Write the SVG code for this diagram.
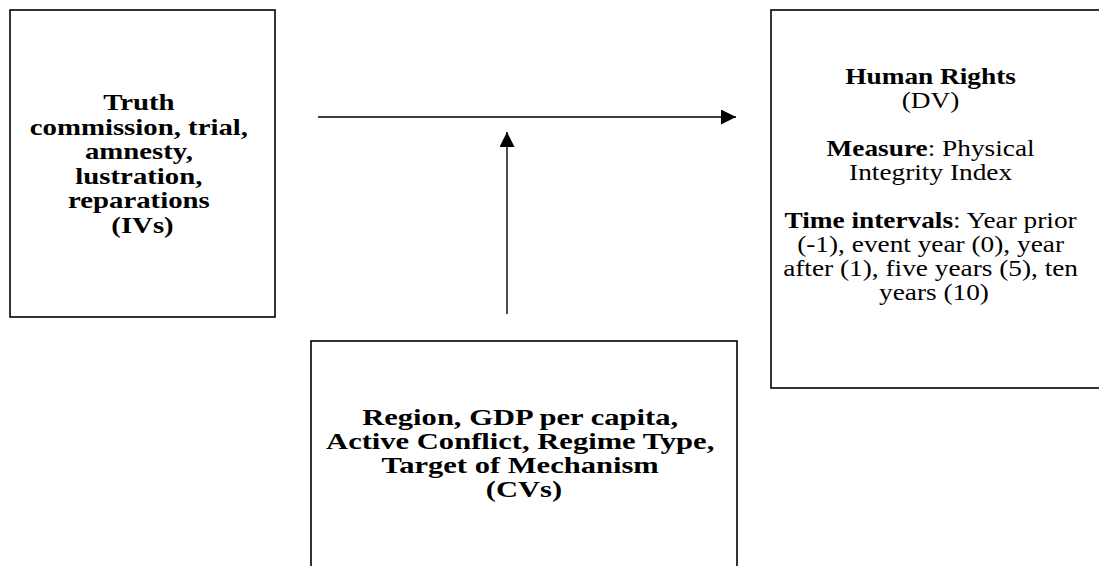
<svg xmlns="http://www.w3.org/2000/svg" width="1099" height="566" viewBox="0 0 1099 566">
  <style>
    .box { fill: #ffffff; stroke: #000000; stroke-width: 1.6; }
    .t { font-family: "Liberation Serif", "Times New Roman", serif; font-size: 23.5px; fill: #000000; text-anchor: middle; }
    .t.sm { font-size: 22.3px; }
    .b { font-weight: bold; }
    .wire { stroke: #000000; stroke-width: 1.4; fill: none; }
  </style>
  <defs>
    <marker id="arrow" viewBox="0 0 15 15" refX="15" refY="7.5" markerWidth="15" markerHeight="15" markerUnits="userSpaceOnUse" orient="auto">
      <path d="M0,0 L15,7.5 L0,15 Z" fill="#000000"/>
    </marker>
  </defs>
  <rect width="1099" height="566" fill="#ffffff"/>

  <!-- independent variables -->
  <g id="node-ivs">
    <rect class="box" x="10" y="10" width="265" height="307"/>
    <g transform="translate(142.5,0) scale(1.226,1)">
      <text class="t b">
        <tspan x="0" y="110.5">Truth</tspan>
        <tspan x="0" y="135">commission, trial,</tspan>
        <tspan x="0" y="159.5">amnesty,</tspan>
        <tspan x="0" y="184">lustration,</tspan>
        <tspan x="0" y="208.5">reparations</tspan>
        <tspan x="0" y="233">(IVs)</tspan>
      </text>
    </g>
  </g>

  <!-- dependent variable -->
  <g id="node-dv">
    <rect class="box" x="771" y="10" width="340" height="378"/>
    <g transform="translate(934,0) scale(1.225,1)">
      <text class="t sm">
        <tspan x="0" y="84.5" class="b">Human Rights</tspan>
        <tspan x="0" y="108.5">(DV)</tspan>
        <tspan x="0" y="156.5"><tspan class="b">Measure</tspan>: Physical</tspan>
        <tspan x="0" y="180.5">Integrity Index</tspan>
        <tspan x="0" y="228.5"><tspan class="b">Time intervals</tspan>: Year prior</tspan>
        <tspan x="0" y="252.5">(-1), event year (0), year</tspan>
        <tspan x="0" y="276.5">after (1), five years (5), ten</tspan>
        <tspan x="0" y="300.5">years (10)</tspan>
      </text>
    </g>
  </g>

  <!-- control variables -->
  <g id="node-cvs">
    <rect class="box" x="311" y="341" width="426" height="240"/>
    <g transform="translate(524,0) scale(1.30,1)">
      <text class="t b">
        <tspan x="0" y="425.5">Region, GDP per capita,</tspan>
        <tspan x="0" y="449.5">Active Conflict, Regime Type,</tspan>
        <tspan x="0" y="473.5">Target of Mechanism</tspan>
        <tspan x="0" y="497.5">(CVs)</tspan>
      </text>
    </g>
  </g>

  <g id="connectors">
    <line class="wire" x1="318" y1="117" x2="736" y2="117" marker-end="url(#arrow)"/>
    <line class="wire" x1="507" y1="314" x2="507" y2="132" marker-end="url(#arrow)"/>
  </g>
</svg>
